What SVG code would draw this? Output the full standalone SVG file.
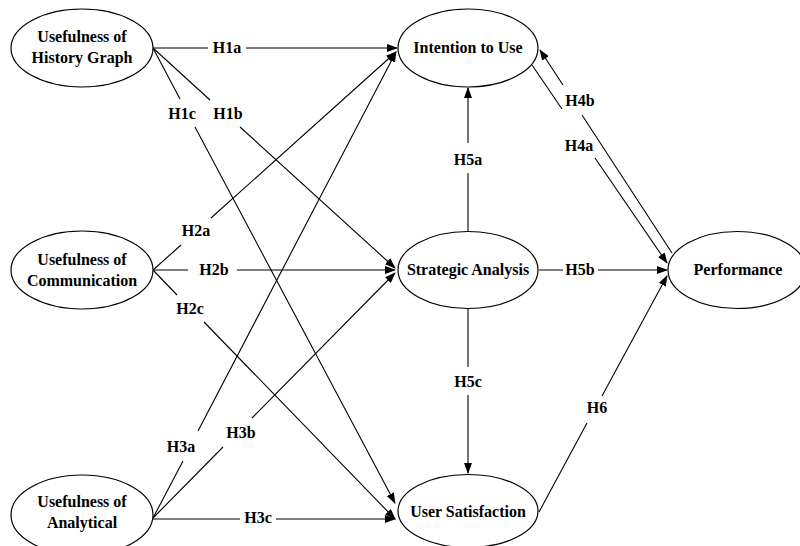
<svg xmlns="http://www.w3.org/2000/svg" width="800" height="546" viewBox="0 0 800 546">
<style>
.node ellipse{fill:#fff;stroke:#000;stroke-width:1.2}
text{font-family:"Liberation Serif","Times New Roman",serif;font-weight:bold;font-size:16px;fill:#000;text-anchor:middle}
.conn path{fill:none;stroke:#000;stroke-width:1.1;marker-end:url(#arr)}
</style>
<defs>
<marker id="arr" markerUnits="userSpaceOnUse" markerWidth="11" markerHeight="8" refX="10" refY="4" orient="auto">
<path d="M0,0 L11,4 L0,8 z" fill="#000"/>
</marker>
</defs>
<rect width="800" height="546" fill="#fff"/>
<g class="conn" id="connectors">
<path id="H1a" d="M153,48 L208,48 M246,48 L397,48"/>
<path id="H1b" d="M153,48 L210,100 M240,127 L395,268"/>
<path id="H1c" d="M153,48 L180,99 M195,127 L395,503"/>
<path id="H2a" d="M153,270 L181,245 M211,218 L396,52"/>
<path id="H2b" d="M153,270 L188,270 M237,270 L395,270"/>
<path id="H2c" d="M153,270 L177,295 M204,322 L395,519"/>
<path id="H3a" d="M153,518 L183,461 M198,431 L396,52"/>
<path id="H3b" d="M153,518 L223,447 M252,418 L395,273"/>
<path id="H3c" d="M153,519 L240,519 M276,519 L395,519"/>
<path id="H4a" d="M532,65 L562,109 M595,158 L667,263"/>
<path id="H4b" d="M672,253 L582,115 M563,85 L540,50"/>
<path id="H5a" d="M468,232 L468,173 M468,143 L468,88"/>
<path id="H5b" d="M539,270 L563,270 M598,270 L667,270"/>
<path id="H5c" d="M468,309 L468,367 M468,395 L468,473"/>
<path id="H6" d="M539,512 L587,423 M602,396 L667,276"/>
</g>
<g id="labels">
<text x="227" y="53">H1a</text>
<text x="228" y="119">H1b</text>
<text x="182" y="119">H1c</text>
<text x="196" y="236">H2a</text>
<text x="214" y="275">H2b</text>
<text x="190" y="314">H2c</text>
<text x="181" y="452">H3a</text>
<text x="241" y="438">H3b</text>
<text x="258" y="523">H3c</text>
<text x="580" y="106">H4b</text>
<text x="579" y="151">H4a</text>
<text x="468" y="165">H5a</text>
<text x="580" y="275">H5b</text>
<text x="468" y="387">H5c</text>
<text x="597" y="413">H6</text>
</g>
<g class="node" id="history">
<ellipse cx="82" cy="48" rx="71" ry="39"/>
<text x="82" y="42">Usefulness of</text>
<text x="82" y="63">History Graph</text>
</g>
<g class="node" id="communication">
<ellipse cx="82" cy="270" rx="71" ry="39"/>
<text x="82" y="265">Usefulness of</text>
<text x="82" y="286">Communication</text>
</g>
<g class="node" id="analytical">
<ellipse cx="82" cy="515" rx="71" ry="40"/>
<text x="82" y="507">Usefulness of</text>
<text x="82" y="528">Analytical</text>
</g>
<g class="node" id="intention">
<ellipse cx="468" cy="48" rx="70" ry="39"/>
<text x="468" y="53">Intention to Use</text>
</g>
<g class="node" id="strategic">
<ellipse cx="468" cy="270" rx="70" ry="38.5"/>
<text x="468" y="275">Strategic Analysis</text>
</g>
<g class="node" id="satisfaction">
<ellipse cx="468" cy="511" rx="70" ry="36.5"/>
<text x="468" y="517">User Satisfaction</text>
</g>
<g class="node" id="performance">
<ellipse cx="737" cy="270" rx="69" ry="38.5"/>
<text x="738" y="275">Performance</text>
</g>
</svg>
